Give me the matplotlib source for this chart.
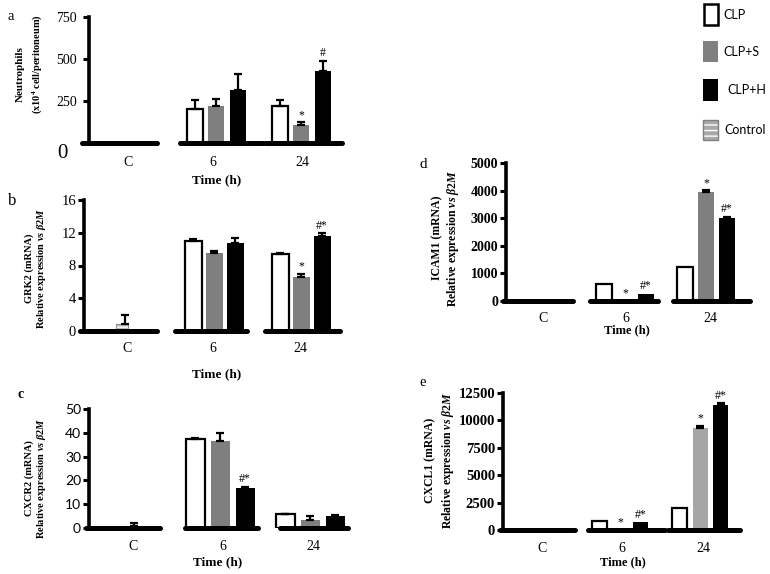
import matplotlib
matplotlib.use("Agg")
import matplotlib.pyplot as plt
from matplotlib.patches import Rectangle

W, H = 770, 574
SERIF = "Liberation Serif"
SANS = "Lato"

plt.rcParams["mathtext.fontset"] = "custom"
plt.rcParams["mathtext.rm"] = "Liberation Serif:bold"
plt.rcParams["mathtext.it"] = "Liberation Serif:italic:bold"
plt.rcParams["mathtext.bf"] = "Liberation Serif:bold"

groups = ["C", "6", "24"]
series = ["CLP", "CLP+S", "CLP+H"]

# values for the 6 h and 24 h groups; control sits in group C
neut_clp, neut_clp_err = [202, 218], [56, 40]
neut_s, neut_s_err = [218, 107], [44, 16]
neut_h, neut_h_err = [317, 430], [95, 60]
neut_ctrl, neut_ctrl_err = 0, 0
neut_sig = {"CLP+S": ["", "*"], "CLP+H": ["", "#"]}

grk_clp, grk_clp_err = [10.95, 9.4], [0.3, 0.1]
grk_s, grk_s_err = [9.5, 6.6], [0.3, 0.4]
grk_h, grk_h_err = [10.7, 11.65], [0.6, 0.3]
grk_ctrl, grk_ctrl_err = 0.9, 1.0
grk_sig = {"CLP+S": ["", "*"], "CLP+H": ["", "#*"]}

cxcr_clp, cxcr_clp_err = [37.6, 5.8], [0.3, 0.1]
cxcr_s, cxcr_s_err = [36.7, 3.2], [3.3, 1.9]
cxcr_h, cxcr_h_err = [16.6, 4.9], [0.7, 0.5]
cxcr_ctrl, cxcr_ctrl_err = 1.0, 1.0
cxcr_sig = {"CLP+S": ["", ""], "CLP+H": ["#*", ""]}

icam_clp, icam_clp_err = [620, 1220], [0, 0]
icam_s, icam_s_err = [15, 3950], [0, 60]
icam_h, icam_h_err = [270, 3000], [0, 60]
icam_ctrl, icam_ctrl_err = 0, 0
icam_sig = {"CLP+S": ["*", "*"], "CLP+H": ["#*", "#*"]}

cxcl_clp, cxcl_clp_err = [850, 2050], [0, 0]
cxcl_s, cxcl_s_err = [30, 9350], [0, 150]
cxcl_h, cxcl_h_err = [700, 11400], [0, 150]
cxcl_ctrl, cxcl_ctrl_err = 0, 0
cxcl_sig = {"CLP+S": ["*", "*"], "CLP+H": ["#*", "#*"]}


def fx(px):
    return px / W


def fy(py):
    return 1 - py / H


fig = plt.figure(figsize=(W / 100, H / 100), dpi=100)


def draw_panel(box, ymax, yticks, centers, pitch, width, segments,
               vals, errs, ctrl, ctrl_err, sig, s_color, tick_font, tick_weight,
               tick_size, tick_pad=2):
    l, t, r, b = box
    ax = fig.add_axes([fx(l), fy(b), fx(r) - fx(l), fy(t) - fy(b)])
    ax.set_xlim(l, r)
    ax.set_ylim(0, ymax)
    colors = ["white", s_color, "black"]
    for k, name in enumerate(series):
        for g in range(2):
            x = centers[g + 1] + (k - 1) * pitch
            v = vals[k][g]
            ax.bar(x, v, width=width, color=colors[k],
                   edgecolor="black" if k == 0 else colors[k],
                   linewidth=1.6 if k == 0 else 0, zorder=3)
            e = errs[k][g]
            if e > 0:
                ax.errorbar(x, v, yerr=[[0], [e]], fmt="none", ecolor="black",
                            elinewidth=1.6, capsize=3, capthick=1.6, zorder=4)
            if name in sig and sig[name][g]:
                ax.annotate(sig[name][g], (x, v + e), xytext=(0, 1),
                            textcoords="offset points", ha="center", va="bottom",
                            fontsize=8.5, family=SERIF, zorder=5)
    if ctrl > 0:
        xc = centers[0]
        ax.bar(xc, ctrl, width=width * 0.65, color="#b8b8b8", edgecolor="white",
               hatch="----", linewidth=0, zorder=3)
        ax.bar(xc, ctrl, width=width * 0.65, fill=False, edgecolor="#8c8c8c",
               linewidth=0.7, zorder=3)
        ax.errorbar(xc + width * 0.2, ctrl, yerr=[[0], [ctrl_err]], fmt="none",
                    ecolor="black", elinewidth=1.6, capsize=3, capthick=1.6,
                    zorder=4)
    for s0, s1 in segments:
        ax.plot([s0, s1], [0, 0], color="black", lw=3.6, clip_on=False,
                solid_capstyle="round", zorder=6)
    for side in ["top", "right", "bottom"]:
        ax.spines[side].set_visible(False)
    ax.spines["left"].set_linewidth(2.6)
    ax.spines["left"].set_position(("data", l + 1.3))
    ax.set_xticks([])
    ax.set_yticks(yticks)
    ax.tick_params(axis="y", direction="out", length=4, width=2.2, pad=tick_pad)
    for lab in ax.get_yticklabels():
        lab.set_family(tick_font)
        lab.set_fontweight(tick_weight)
        lab.set_fontsize(tick_size)
    ax.patch.set_alpha(0)
    return ax


def xlabels(centers, y, size=10):
    for c, g in zip(centers, groups):
        fig.text(fx(c), fy(y), g, ha="center", va="center", family=SERIF,
                 fontsize=size)


# panel a
ax_a = draw_panel((88, 17, 342, 143), 750, [0, 250, 500, 750], [128, 216, 301],
                  21.5, 16, [(82, 157), (180, 263), (265, 342)],
                  [neut_clp, neut_s, neut_h],
                  [neut_clp_err, neut_s_err, neut_h_err],
                  neut_ctrl, neut_ctrl_err, neut_sig, "#7f7f7f", SERIF, "normal",
                  10, tick_pad=5)
ax_a.set_yticklabels(["", "250", "500", "750"])
fig.text(fx(62), fy(154), "0", ha="center", va="center", family=SERIF, fontsize=15)
fig.text(fx(7), fy(16), "a", ha="left", va="center", family=SERIF, fontsize=10.5)
fig.text(fx(20), fy(74), "Neutrophils", rotation=90, ha="center", va="center",
         family=SERIF, fontsize=8, fontweight="bold")
fig.text(fx(37), fy(64), r"(x10$^{4}$ cell/peritoneum)", rotation=90,
         ha="center", va="center", family=SERIF, fontsize=7.5, fontweight="bold")
xlabels([128, 213, 302], 162)
fig.text(fx(217), fy(180), "Time (h)", ha="center", va="center", family=SERIF,
         fontsize=9.5, fontweight="bold")

# panel b
draw_panel((83, 200, 340, 331), 16, [0, 4, 8, 12, 16], [122, 214, 301],
           21, 17, [(80, 157), (175, 247), (265, 340)],
           [grk_clp, grk_s, grk_h], [grk_clp_err, grk_s_err, grk_h_err],
           grk_ctrl, grk_ctrl_err, grk_sig, "#7f7f7f", SERIF, "normal", 10.5)
fig.text(fx(8), fy(201), "b", ha="left", va="center", family=SERIF, fontsize=12)
fig.text(fx(29), fy(268), "GRK2 (mRNA)", rotation=90, ha="center", va="center",
         family=SERIF, fontsize=7.5, fontweight="bold")
fig.text(fx(41), fy(268), r"Relative expression $\it{vs}$ $\it{\beta2M}$",
         rotation=90, ha="center", va="center", family=SERIF, fontsize=7.5,
         fontweight="bold")
xlabels([127, 213, 300], 349)
fig.text(fx(217), fy(374), "Time (h)", ha="center", va="center", family=SERIF,
         fontsize=9.5, fontweight="bold")

# panel c
draw_panel((88, 409, 348, 528), 50, [0, 10, 20, 30, 40, 50], [130, 220, 310],
           25, 19, [(86, 160), (185, 258), (280, 348)],
           [cxcr_clp, cxcr_s, cxcr_h], [cxcr_clp_err, cxcr_s_err, cxcr_h_err],
           cxcr_ctrl, cxcr_ctrl_err, cxcr_sig, "#7f7f7f", SANS, "normal", 10)
fig.text(fx(17), fy(394), "c", ha="left", va="center", family=SERIF, fontsize=10,
         fontweight="bold")
fig.text(fx(29), fy(478), "CXCR2 (mRNA)", rotation=90, ha="center", va="center",
         family=SERIF, fontsize=7.5, fontweight="bold")
fig.text(fx(41), fy(478), r"Relative expression $\it{vs}$ $\it{\beta2M}$",
         rotation=90, ha="center", va="center", family=SERIF, fontsize=7.5,
         fontweight="bold")
xlabels([133, 223, 313], 547)
fig.text(fx(218), fy(562), "Time (h)", ha="center", va="center", family=SERIF,
         fontsize=9.5, fontweight="bold")

# panel d
draw_panel((505, 163, 750, 301), 5000, [0, 1000, 2000, 3000, 4000, 5000],
           [543, 625, 706], 21, 16, [(503, 573), (590, 658), (673, 750)],
           [icam_clp, icam_s, icam_h], [icam_clp_err, icam_s_err, icam_h_err],
           icam_ctrl, icam_ctrl_err, icam_sig, "#7f7f7f", SERIF, "bold", 10)
fig.text(fx(419), fy(164), "d", ha="left", va="center", family=SERIF, fontsize=11)
fig.text(fx(437), fy(238), "ICAM1 (mRNA)", rotation=90, ha="center", va="center",
         family=SERIF, fontsize=8.5, fontweight="bold")
fig.text(fx(453), fy(238), r"Relative expression $\it{vs}$ $\it{\beta2M}$",
         rotation=90, ha="center", va="center", family=SERIF, fontsize=8.5,
         fontweight="bold")
xlabels([543, 626, 710], 318)
fig.text(fx(627), fy(330), "Time (h)", ha="center", va="center", family=SERIF,
         fontsize=9, fontweight="bold")

# panel e
draw_panel((502, 393, 740, 530), 12500, [0, 2500, 5000, 7500, 10000, 12500],
           [542, 620, 700], 20.5, 15, [(500, 575), (588, 665), (668, 740)],
           [cxcl_clp, cxcl_s, cxcl_h], [cxcl_clp_err, cxcl_s_err, cxcl_h_err],
           cxcl_ctrl, cxcl_ctrl_err, cxcl_sig, "#a6a6a6", SERIF, "bold", 10.5)
fig.text(fx(419), fy(383), "e", ha="left", va="center", family=SERIF, fontsize=10.5)
fig.text(fx(430), fy(460), "CXCL1 (mRNA)", rotation=90, ha="center", va="center",
         family=SERIF, fontsize=8.5, fontweight="bold")
fig.text(fx(448), fy(460), r"Relative expression $\it{vs}$ $\it{\beta2M}$",
         rotation=90, ha="center", va="center", family=SERIF, fontsize=8.5,
         fontweight="bold")
xlabels([542, 622, 703], 548)
fig.text(fx(623), fy(562), "Time (h)", ha="center", va="center", family=SERIF,
         fontsize=9, fontweight="bold")

# legend
legend_rows = [(4, 25, 15, 723), (41, 62, 52, 723), (79, 101, 90, 727),
               (120, 140, 130, 724)]
legend_labels = series + ["Control"]
for (y0, y1, yc, xt), lab in zip(legend_rows, legend_labels):
    if lab == "CLP":
        p = Rectangle((fx(704), fy(y1)), fx(14), (y1 - y0) / H, facecolor="white",
                      edgecolor="black", linewidth=1.8, transform=fig.transFigure)
        fig.patches.append(p)
    elif lab == "CLP+S":
        fig.patches.append(Rectangle((fx(703), fy(y1)), fx(15), (y1 - y0) / H,
                                     facecolor="#808080", edgecolor="none",
                                     transform=fig.transFigure))
    elif lab == "CLP+H":
        fig.patches.append(Rectangle((fx(703), fy(y1)), fx(15), (y1 - y0) / H,
                                     facecolor="black", edgecolor="none",
                                     transform=fig.transFigure))
    else:
        fig.patches.append(Rectangle((fx(703), fy(y1)), fx(15), (y1 - y0) / H,
                                     facecolor="#a8a8a8", edgecolor="white",
                                     hatch="---", linewidth=0,
                                     transform=fig.transFigure))
        fig.patches.append(Rectangle((fx(703), fy(y1)), fx(15), (y1 - y0) / H,
                                     fill=False, edgecolor="#808080", linewidth=1,
                                     transform=fig.transFigure))
    fig.text(fx(xt), fy(yc), lab, ha="left", va="center", family=SANS, fontsize=9)

fig.savefig("out.png", dpi=100)
